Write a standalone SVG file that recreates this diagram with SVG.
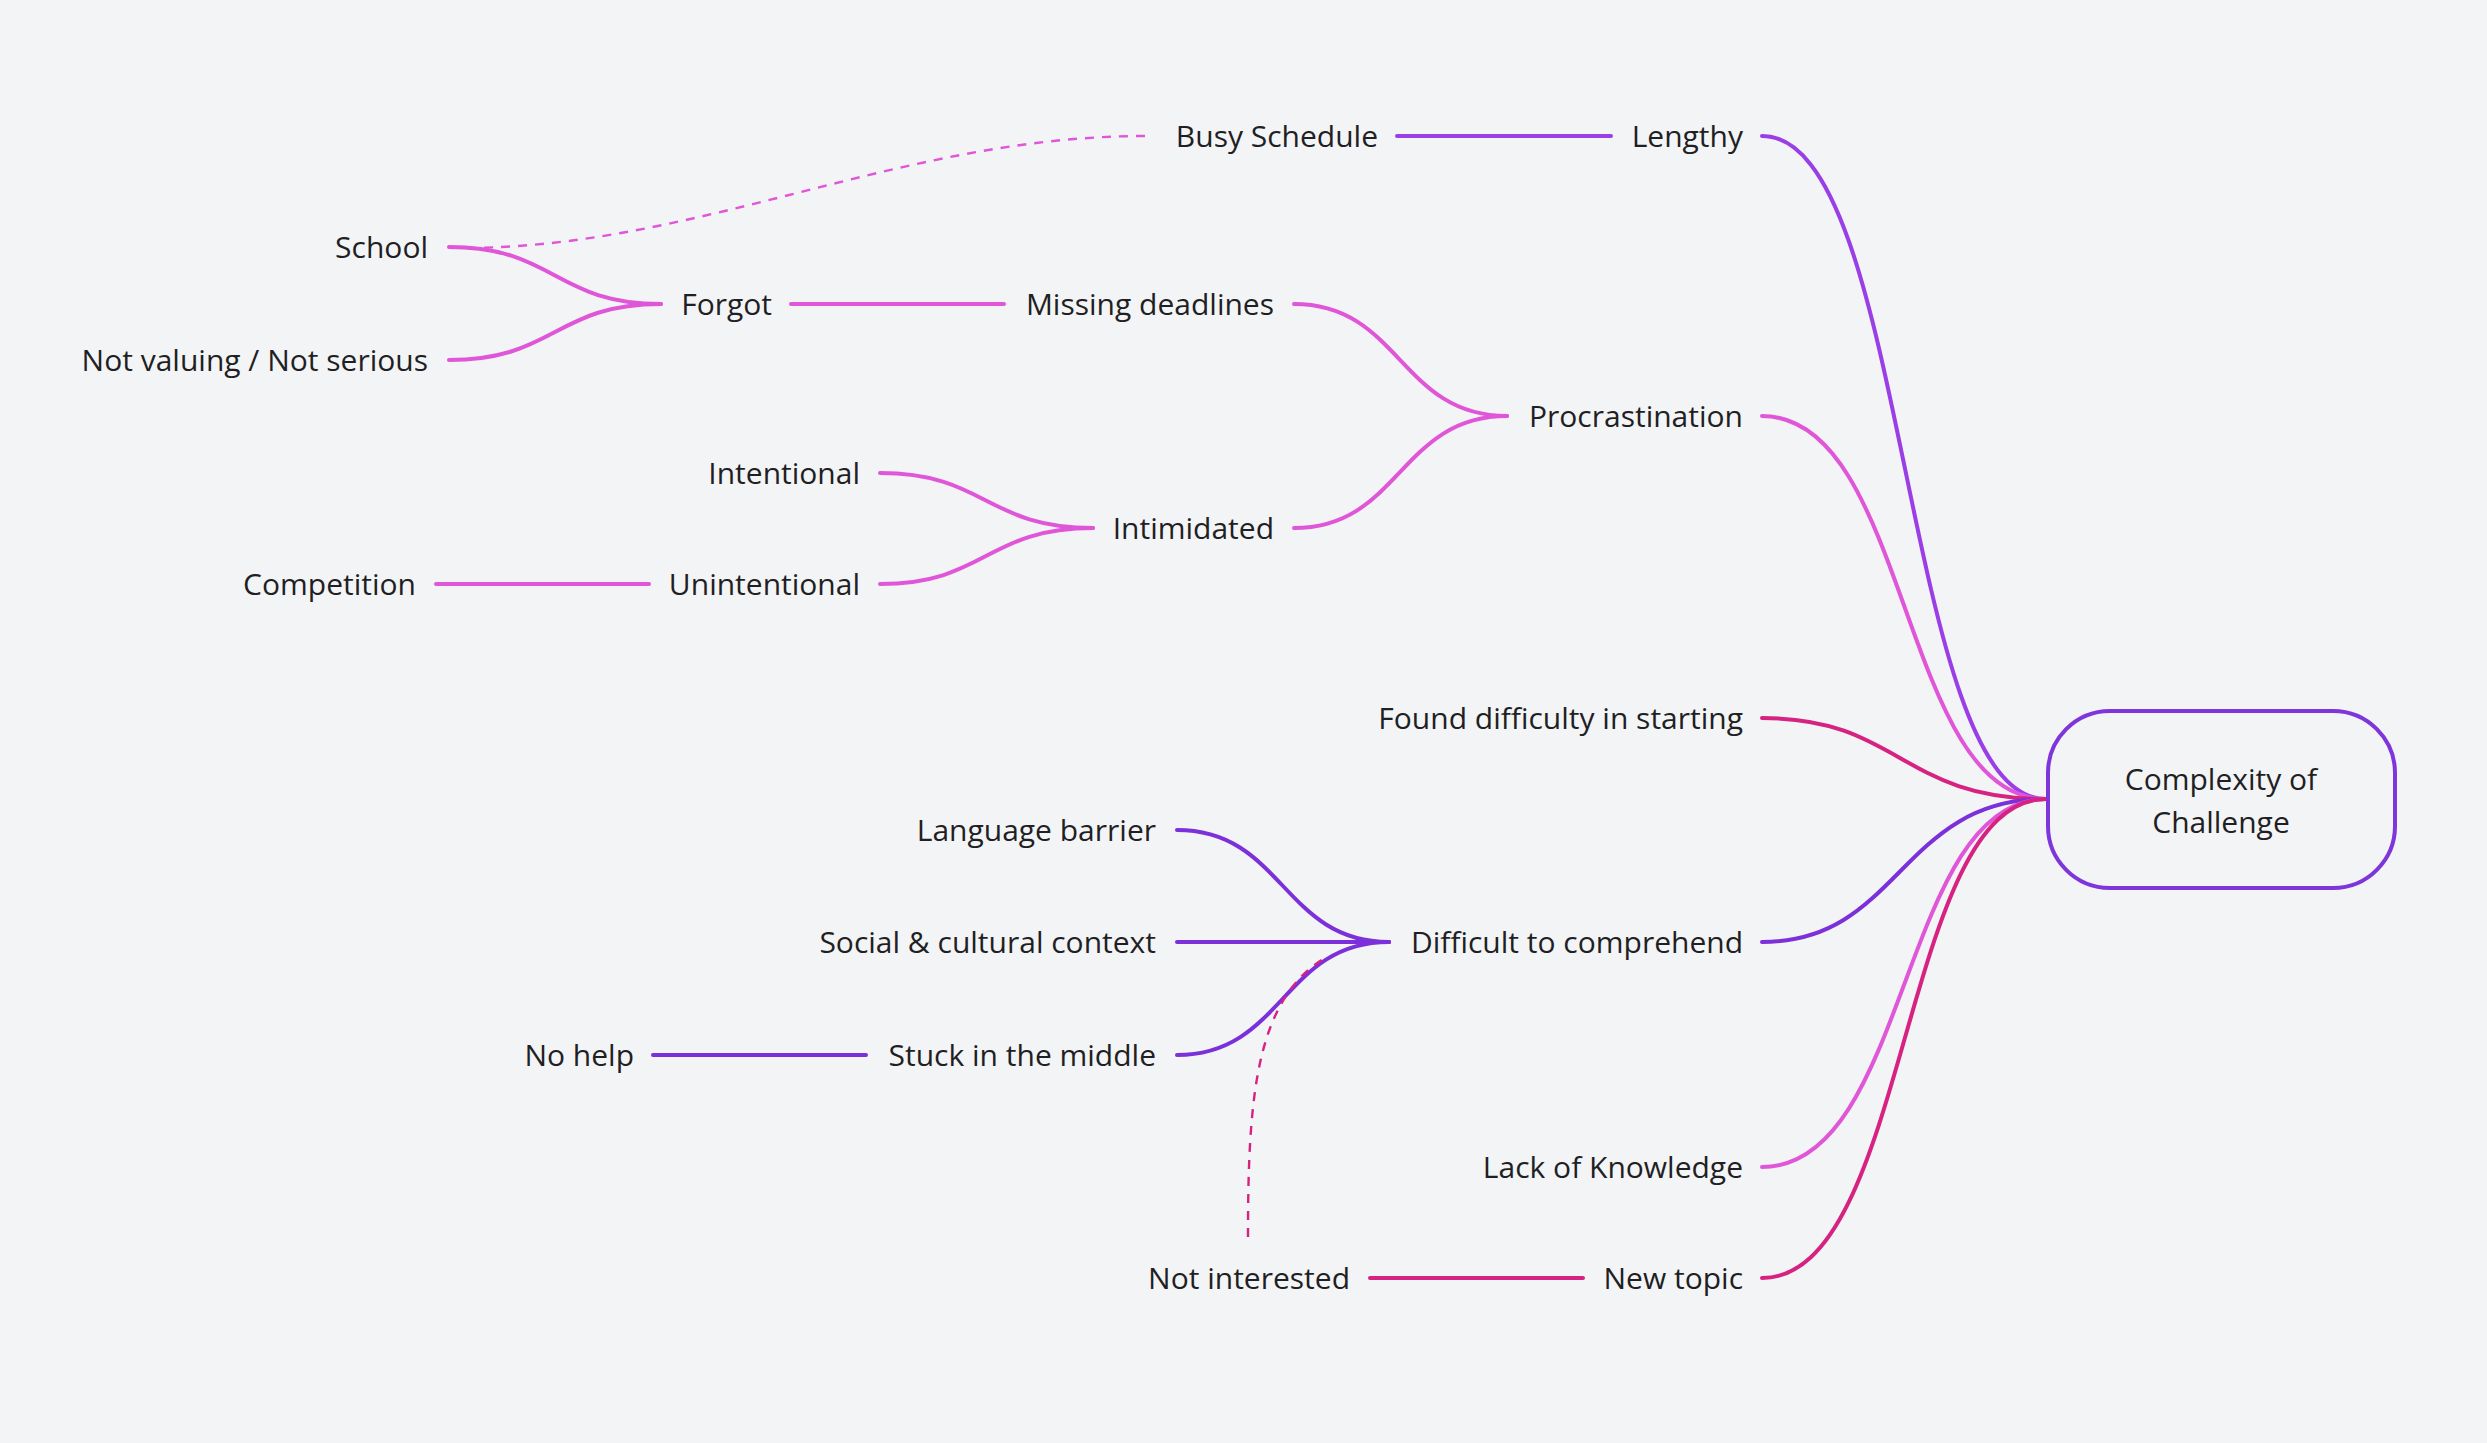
<svg xmlns="http://www.w3.org/2000/svg" width="2487" height="1443" viewBox="0 0 2487 1443">
<style>
text{font-family:"Open Sans","Noto Sans","Liberation Sans",sans-serif;font-size:30px;fill:#1f1f24;text-anchor:end}
.c{fill:none;stroke-width:4;stroke-linecap:round}
.v{stroke:#9a3ee6}
.p{stroke:#e056d8}
.r{stroke:#d62382}
.d{stroke:#7c30da}
.dash{fill:none;stroke-width:2.4;stroke-dasharray:9 8}
</style>
<rect width="2487" height="1443" fill="#f3f4f6"/>
<g id="connectors">
<path class="c v" d="M1762,136 C1910,136 1900,799 2046,799"/>
<path class="c p" d="M1762,416 C1910,416 1900,799 2046,799"/>
<path class="c r" d="M1762,718 C1900,718 1900,799 2046,799"/>
<path class="c d" d="M1762,942 C1900,942 1900,799 2046,799"/>
<path class="c p" d="M1762,1167 C1910,1167 1900,799 2046,799"/>
<path class="c r" d="M1762,1278 C1910,1278 1900,799 2046,799"/>
<path class="c v" d="M1397,136 L1611,136"/>
<path class="dash p" d="M1145,136 C900,136 700,248 462,248"/>
<path class="c p" d="M1294,304 C1400,304 1400,416 1507,416"/>
<path class="c p" d="M1294,528 C1400,528 1400,416 1507,416"/>
<path class="c p" d="M791,304 L1004,304"/>
<path class="c p" d="M449,247 C555,247 555,304 661,304"/>
<path class="c p" d="M449,360 C555,360 555,304 661,304"/>
<path class="c p" d="M880,473 C986,473 986,528 1093,528"/>
<path class="c p" d="M880,584 C986,584 986,528 1093,528"/>
<path class="c p" d="M436,584 L649,584"/>
<path class="c d" d="M1177,830 C1283,830 1283,942 1389,942"/>
<path class="c d" d="M1177,942 L1389,942"/>
<path class="c d" d="M1177,1055 C1283,1055 1283,942 1389,942"/>
<path class="c d" d="M653,1055 L866,1055"/>
<path class="c r" d="M1370,1278 L1583,1278"/>
<path class="dash r" d="M1248,1237 C1248,1100 1255,1000 1325,958"/>
</g>
<g id="center">
<rect x="2048" y="711" width="347" height="177" rx="62" fill="none" stroke="#7e35dc" stroke-width="4"/>
<text x="2221" y="790" style="text-anchor:middle">Complexity of</text>
<text x="2221" y="833" style="text-anchor:middle">Challenge</text>
</g>
<g id="n-busy"><text x="1378" y="147">Busy Schedule</text></g>
<g id="n-lengthy"><text x="1743" y="147">Lengthy</text></g>
<g id="n-school"><text x="428" y="258">School</text></g>
<g id="n-forgot"><text x="772" y="315">Forgot</text></g>
<g id="n-notvaluing"><text x="428" y="371">Not valuing / Not serious</text></g>
<g id="n-missing"><text x="1274" y="315">Missing deadlines</text></g>
<g id="n-procrastination"><text x="1743" y="427">Procrastination</text></g>
<g id="n-intentional"><text x="860" y="484">Intentional</text></g>
<g id="n-intimidated"><text x="1274" y="539">Intimidated</text></g>
<g id="n-competition"><text x="416" y="595">Competition</text></g>
<g id="n-unintentional"><text x="860" y="595">Unintentional</text></g>
<g id="n-found"><text x="1743" y="729">Found difficulty in starting</text></g>
<g id="n-language"><text x="1156" y="841">Language barrier</text></g>
<g id="n-social"><text x="1156" y="953">Social &amp; cultural context</text></g>
<g id="n-difficult"><text x="1743" y="953">Difficult to comprehend</text></g>
<g id="n-nohelp"><text x="634" y="1066">No help</text></g>
<g id="n-stuck"><text x="1156" y="1066">Stuck in the middle</text></g>
<g id="n-lack"><text x="1743" y="1178">Lack of Knowledge</text></g>
<g id="n-notinterested"><text x="1350" y="1289">Not interested</text></g>
<g id="n-newtopic"><text x="1743" y="1289">New topic</text></g>
</svg>
